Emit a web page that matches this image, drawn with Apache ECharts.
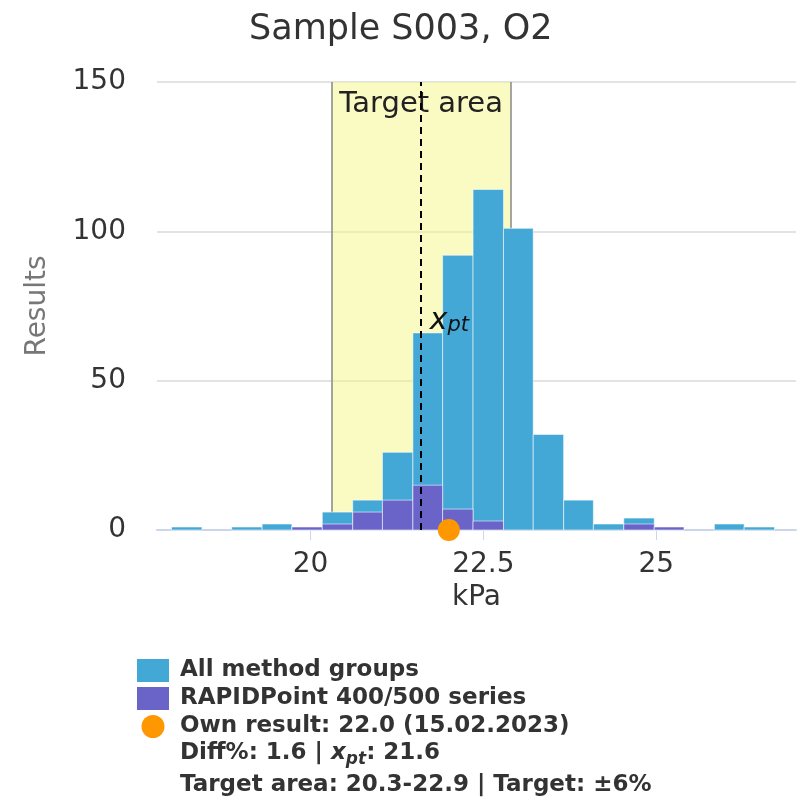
<!DOCTYPE html>
<html>
<head>
<meta charset="utf-8">
<script src="https://cdn.jsdelivr.net/npm/echarts@6.0.0/dist/echarts.min.js"></script>
<style>
  html, body { margin: 0; padding: 0; background: #fff; }
  #main { width: 810px; height: 807px; }
</style>
</head>
<body>
<div id="main"></div>
<script>
// histogram bins (kPa)
var binEdges = [17.99, 18.43, 18.86, 19.30, 19.73, 20.17, 20.61, 21.04, 21.48, 21.91, 22.35,
                22.79, 23.22, 23.66, 24.09, 24.53, 24.97, 25.40, 25.84, 26.27, 26.71];
var allCounts = [1, 0, 1, 2, 1, 6, 10, 26, 66, 92, 114, 101, 32, 10, 2, 4, 1, 0, 2, 1];
var rapidCounts = [0, 0, 0, 0, 1, 2, 6, 10, 15, 7, 3, 0, 0, 0, 0, 2, 1, 0, 0, 0];
var xTicks = [20, 22.5, 25];
var targetRange = [20.3, 22.9];
var xpt = 21.6;
var ownResult = 22.0;

var FONT = '"DejaVu Sans", sans-serif';

function toBins(counts) {
    return counts.map(function (c, i) { return [binEdges[i], binEdges[i + 1], c]; });
}

function histItem(color) {
    return function (params, api) {
        if (api.value(2) === 0) return;
        var p0 = api.coord([api.value(0), api.value(2)]);
        var p1 = api.coord([api.value(1), 0]);
        return {
            type: 'rect',
            shape: { x: p0[0], y: p0[1], width: p1[0] - p0[0], height: p1[1] - p0[1] },
            style: { fill: color, stroke: 'rgba(255,255,255,0.55)', lineWidth: 1 }
        };
    };
}

var chartDom = document.getElementById('main');
var myChart = echarts.init(chartDom);
var option = {
    animation: false,
    title: {
        text: 'Sample S003, O2',
        left: 244,
        top: 7,
        textStyle: { fontFamily: FONT, fontSize: 35, fontWeight: 'normal', color: '#333' }
    },
    grid: { left: 157, right: 14, top: 82, bottom: 277 },
    legend: {
        orient: 'vertical',
        left: 137,
        top: 659,
        padding: 0,
        itemWidth: 32,
        itemHeight: 23,
        itemGap: 5,
        selectedMode: false,
        textStyle: { fontFamily: FONT, fontSize: 23, fontWeight: 'bold', color: '#333', padding: [0, 0, 0, 6] },
        data: [
            { name: 'All method groups', icon: 'rect' },
            { name: 'RAPIDPoint 400/500 series', icon: 'rect' },
            { name: 'Own result: 22.0 (15.02.2023)', icon: 'circle' }
        ]
    },
    xAxis: {
        type: 'value',
        min: 17.78,
        max: 27.02,
        name: 'kPa',
        nameLocation: 'middle',
        nameGap: 48,
        nameTextStyle: { fontFamily: FONT, fontSize: 28, color: '#333' },
        axisLine: { lineStyle: { color: '#ccd6eb', width: 2 } },
        axisTick: { show: true, length: 10, customValues: xTicks, lineStyle: { color: '#ccd6eb' } },
        axisLabel: {
            customValues: xTicks,
            margin: 21,
            fontFamily: FONT, fontSize: 28, color: '#333',
            formatter: function (v) { return String(v); }
        },
        splitLine: { show: false }
    },
    yAxis: {
        type: 'value',
        min: 0,
        max: 150,
        interval: 50,
        name: 'Results',
        nameLocation: 'middle',
        nameGap: 105,
        nameTextStyle: { fontFamily: FONT, fontSize: 28, color: '#777' },
        axisLine: { show: false },
        axisTick: { show: false },
        axisLabel: { margin: 31, fontFamily: FONT, fontSize: 28, color: '#333' },
        splitLine: { lineStyle: { color: '#e3e3e3', width: 2 } }
    },
    graphic: [
        {
            type: 'text',
            left: 180,
            top: 742,
            style: {
                text: 'Diff%: 1.6 | {i|x}{s|pt}{b|: 21.6}',
                fontFamily: FONT, fontSize: 23, fontWeight: 'bold', fill: '#333',
                rich: {
                    b: { fontFamily: FONT, fontSize: 23, fontWeight: 'bold', fill: '#333', lineHeight: 30 },
                    i: { fontFamily: FONT, fontSize: 23, fontWeight: 'bold', fontStyle: 'italic', fill: '#333', lineHeight: 30 },
                    s: { fontFamily: FONT, fontSize: 17, fontWeight: 'bold', fontStyle: 'italic', fill: '#333', lineHeight: 16, verticalAlign: 'bottom' }
                }
            }
        },
        {
            type: 'text',
            left: 180,
            top: 774,
            style: {
                text: 'Target area: 20.3-22.9 | Target: ±6%',
                fontFamily: FONT, fontSize: 23, fontWeight: 'bold', fill: '#333'
            }
        }
    ],
    series: [
        {
            name: 'All method groups',
            type: 'custom',
            z: 2,
            itemStyle: { color: '#43a8d6' },
            encode: { x: [0, 1], y: 2 },
            renderItem: histItem('#43a8d6'),
            data: toBins(allCounts),
            markArea: {
                silent: true,
                itemStyle: { color: 'rgba(245,248,135,0.5)' },
                label: {
                    show: true,
                    position: 'insideTop',
                    distance: 8,
                    formatter: 'Target area',
                    fontFamily: FONT, fontSize: 29, color: '#222'
                },
                data: [[{ xAxis: targetRange[0] }, { xAxis: targetRange[1] }]]
            },
            markLine: {
                silent: true,
                z: 1,
                symbol: 'none',
                label: { show: false },
                lineStyle: { color: '#888', type: 'solid', width: 1.5 },
                data: [{ xAxis: targetRange[0] }, { xAxis: targetRange[1] }]
            }
        },
        {
            name: 'RAPIDPoint 400/500 series',
            type: 'custom',
            z: 3,
            itemStyle: { color: '#6a64c9' },
            encode: { x: [0, 1], y: 2 },
            renderItem: histItem('#6a64c9'),
            data: toBins(rapidCounts),
            markLine: {
                silent: true,
                symbol: 'none',
                label: { show: false },
                lineStyle: { color: '#000', type: [7, 5], width: 2 },
                data: [{ xAxis: xpt }]
            },
            markPoint: {
                silent: true,
                symbol: 'circle',
                symbolSize: 1,
                itemStyle: { color: 'rgba(0,0,0,0)' },
                label: {
                    show: true,
                    position: 'right',
                    distance: 8,
                    formatter: '{x|x}{s|pt}',
                    rich: {
                        x: { fontFamily: FONT, fontSize: 30, fontStyle: 'italic', color: '#111', lineHeight: 30 },
                        s: { fontFamily: FONT, fontSize: 21, fontStyle: 'italic', color: '#111', lineHeight: 18, verticalAlign: 'bottom' }
                    }
                },
                data: [{ coord: [xpt, 70] }]
            }
        },
        {
            name: 'Own result: 22.0 (15.02.2023)',
            type: 'scatter',
            z: 6,
            clip: false,
            symbolSize: 22,
            itemStyle: { color: '#ff9800', opacity: 1 },
            data: [[ownResult, 0]]
        }
    ]
};
option && myChart.setOption(option);
</script>
</body>
</html>
